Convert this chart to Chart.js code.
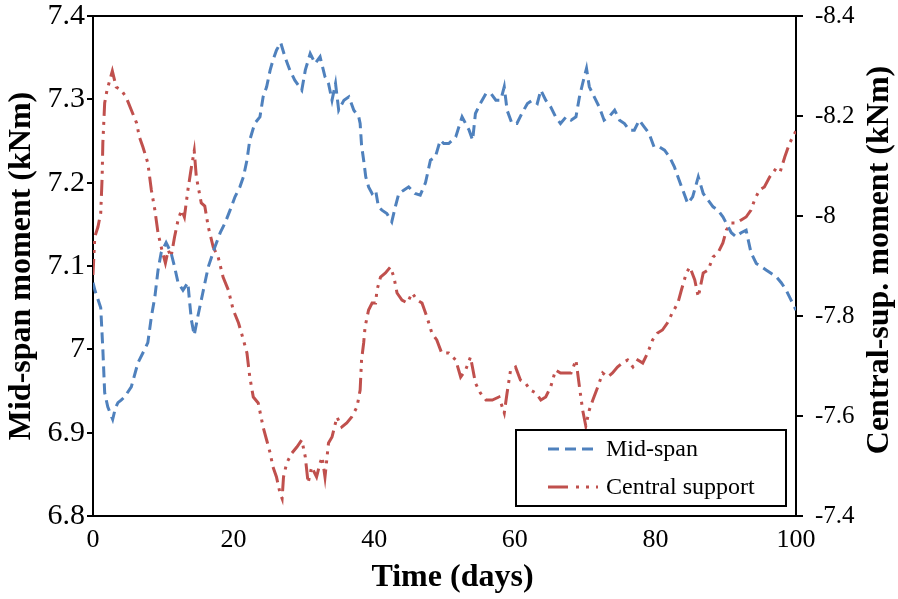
<!DOCTYPE html>
<html lang="en">
<head>
<meta charset="UTF-8" />
<title>Mid-span and central support moment</title>
<script src="https://cdn.jsdelivr.net/npm/chart.js"></script>
<style>
  body { margin: 0; background: #fff; }
</style>
</head>
<body>
<canvas id="momentChart" width="898" height="599"></canvas>
<script>
// time in days, mid-span moment (kNm) on the left axis
const midDays = [0, 0.3, 0.7, 1.1, 1.4, 1.66, 2.1, 2.8, 3.2, 3.55, 4.0, 4.5, 5.45, 6.4, 7.35, 7.8, 8.3, 8.8, 9.25, 9.7,
  10.4, 11.1, 11.6, 12.1, 12.8, 13.5, 13.75, 14.0, 14.4, 14.9, 15.6, 16.4, 17.35, 18.1, 18.8, 19.5, 20.2, 20.9, 21.4, 21.9,
  22.3, 23.0, 23.75, 24.2, 24.7, 25.2, 25.6, 26.1, 26.7, 27.3, 28.0, 28.7, 29.7, 30.2, 30.9, 31.6, 32.3, 33.0, 33.5, 34.0,
  34.5, 34.95, 35.7, 36.4, 37.1, 37.8, 38.0, 38.2, 38.5, 38.8, 39.2, 39.7, 40.2, 40.6, 41.1, 41.8, 42.5, 43.0, 43.5, 44.2,
  44.9, 45.8, 46.55, 47.3, 48.0, 48.7, 49.4, 49.9, 50.6, 51.6, 52.5, 53.5, 54.0, 54.4, 55.1, 55.9, 56.6, 57.3, 58.0, 58.5,
  58.9, 59.6, 60.3, 61.0, 61.8, 62.5, 63.2, 63.7, 64.4, 65.1, 65.8, 66.5, 67.3, 68.0, 68.7, 69.2, 69.65, 70.2, 70.6, 71.3,
  72.0, 72.7, 73.4, 74.2, 74.9, 75.6, 76.3, 77.0, 77.7, 78.4, 79.1, 79.8, 80.55, 81.3, 82.0, 82.7, 83.2, 83.9, 84.6, 85.3,
  86.1, 86.8, 87.5, 88.2, 88.9, 89.6, 90.1, 90.8, 91.5, 92.2, 92.9, 93.6, 94.35, 95.1, 95.8, 96.5, 97.2, 97.9, 98.6, 99.3, 100];
const midSpan = [7.08, 7.07, 7.06, 7.05, 7.0, 6.948, 6.931, 6.916, 6.93, 6.936, 6.939, 6.943, 6.955, 6.984, 7.0, 7.008, 7.039, 7.063, 7.095, 7.116,
  7.128, 7.116, 7.099, 7.08, 7.071, 7.08, 7.056, 7.035, 7.017, 7.039, 7.067, 7.099, 7.123, 7.14, 7.152, 7.167, 7.183, 7.195, 7.207, 7.227,
  7.251, 7.271, 7.279, 7.303, 7.315, 7.335, 7.347, 7.359, 7.368, 7.351, 7.335, 7.323, 7.311, 7.335, 7.355, 7.343, 7.351, 7.327, 7.319, 7.299,
  7.319, 7.287, 7.299, 7.303, 7.287, 7.279, 7.271, 7.245, 7.227, 7.207, 7.195, 7.187, 7.191, 7.171, 7.167, 7.163, 7.153, 7.171, 7.187, 7.191,
  7.195, 7.187, 7.185, 7.2, 7.227, 7.231, 7.251, 7.247, 7.247, 7.255, 7.279, 7.263, 7.251, 7.283, 7.295, 7.307, 7.307, 7.299, 7.299, 7.315,
  7.287, 7.271, 7.271, 7.283, 7.295, 7.299, 7.295, 7.311, 7.299, 7.291, 7.279, 7.271, 7.279, 7.275, 7.279, 7.303, 7.319, 7.337, 7.315, 7.303,
  7.291, 7.275, 7.279, 7.287, 7.275, 7.271, 7.263, 7.263, 7.275, 7.267, 7.259, 7.243, 7.243, 7.239, 7.231, 7.219, 7.207, 7.191, 7.175, 7.183,
  7.207, 7.187, 7.179, 7.171, 7.167, 7.159, 7.151, 7.14, 7.135, 7.14, 7.143, 7.116, 7.103, 7.099, 7.095, 7.091, 7.087, 7.08, 7.071, 7.059, 7.047];

// time in days, central support moment (kNm) on the right axis
const supDays = [0, 0.25, 0.7, 1.1, 1.3, 1.4, 1.66, 2.0, 2.4, 2.75, 3.3, 4.0, 4.7, 5.45, 6.2, 6.6, 7.1, 7.8, 8.3, 8.8,
  9.25, 9.7, 10.3, 10.7, 11.1, 11.6, 12.1, 12.6, 13.0, 13.5, 14.0, 14.4, 14.7, 15.4, 15.9, 16.4, 17.1, 17.8, 18.5, 19.25,
  19.95, 20.7, 21.4, 21.9, 22.3, 22.8, 23.5, 24.2, 24.7, 25.2, 25.6, 26.1, 26.6, 26.9, 27.1, 27.55, 28.3, 29.0, 29.7, 30.2,
  30.6, 31.1, 31.8, 32.3, 32.6, 33.0, 33.5, 34.0, 34.7, 35.4, 36.1, 36.8, 37.55, 38.0, 38.2, 38.5, 38.7, 39.2, 39.7, 40.2,
  40.4, 40.9, 41.6, 42.3, 42.8, 43.25, 43.95, 44.7, 45.4, 46.1, 46.8, 47.5, 48.2, 48.9, 49.6, 50.6, 51.6, 52.3, 53.0, 53.7,
  54.4, 55.1, 55.9, 56.8, 57.75, 58.5, 58.9, 59.4, 60.1, 60.8, 61.5, 62.2, 63.0, 63.7, 64.4, 65.1, 65.8, 66.5, 67.3, 68.0,
  68.7, 69.2, 69.65, 70.1, 70.6, 71.1, 71.8, 72.5, 73.2, 73.9, 74.6, 75.3, 76.05, 76.8, 77.5, 78.2, 78.9, 79.6, 80.3, 81.0,
  81.7, 82.4, 83.2, 83.7, 84.4, 84.9, 85.6, 86.1, 86.8, 87.5, 88.2, 88.9, 89.6, 90.1, 90.8, 91.5, 92.2, 92.9, 93.6, 94.1,
  94.8, 95.5, 96.25, 97.0, 97.7, 98.4, 99.1, 100];
const centralSupport = [-7.882, -7.958, -7.978, -8.006, -8.078, -8.146, -8.226, -8.252, -8.272, -8.29, -8.258, -8.252, -8.238, -8.212, -8.186, -8.158, -8.138, -8.106, -8.052, -8.012,
  -7.966, -7.938, -7.906, -7.932, -7.918, -7.958, -7.992, -8.012, -7.998, -8.052, -8.098, -8.13, -8.078, -8.026, -8.02, -7.978, -7.938, -7.918, -7.878, -7.852,
  -7.812, -7.786, -7.752, -7.726, -7.678, -7.638, -7.626, -7.578, -7.552, -7.526, -7.498, -7.478, -7.446, -7.435, -7.478, -7.506, -7.526, -7.538, -7.552, -7.518,
  -7.466, -7.498, -7.478, -7.506, -7.518, -7.478, -7.546, -7.558, -7.598, -7.578, -7.586, -7.598, -7.618, -7.652, -7.712, -7.746, -7.778, -7.812, -7.826, -7.826,
  -7.852, -7.878, -7.886, -7.898, -7.878, -7.846, -7.832, -7.826, -7.846, -7.832, -7.826, -7.798, -7.766, -7.752, -7.726, -7.726, -7.712, -7.678, -7.692, -7.718,
  -7.666, -7.646, -7.632, -7.632, -7.638, -7.606, -7.646, -7.692, -7.698, -7.672, -7.666, -7.652, -7.646, -7.632, -7.638, -7.658, -7.692, -7.686, -7.686, -7.686,
  -7.712, -7.658, -7.612, -7.58, -7.612, -7.632, -7.658, -7.686, -7.678, -7.686, -7.698, -7.706, -7.712, -7.698, -7.712, -7.706, -7.726, -7.752, -7.766, -7.772,
  -7.786, -7.806, -7.826, -7.852, -7.886, -7.898, -7.872, -7.838, -7.886, -7.892, -7.918, -7.926, -7.946, -7.972, -7.986, -7.986, -7.992, -7.998, -8.012, -8.032,
  -8.052, -8.058, -8.078, -8.092, -8.086, -8.118, -8.146, -8.17];

const xTicks = [0, 20, 40, 60, 80, 100];
const leftTicks = [6.8, 6.9, 7.0, 7.1, 7.2, 7.3, 7.4];
const rightTicks = [-8.4, -8.2, -8.0, -7.8, -7.6, -7.4];

const seriesNames = ['Mid-span', 'Central support'];
const BLUE = '#4f81bd';
const RED = '#c0504d';
const blueDash = [11, 6];
const redDash = [16, 6, 3, 6, 3, 6];
const SERIF = "'Liberation Serif', 'Times New Roman', serif";

const fmt = v => String(+v.toFixed(1));
const noPad = s => { s.paddingTop = 0; s.paddingBottom = 0; };

// top frame line, axis titles that Chart.js can't place as wanted, boxed legend
const extras = {
  id: 'extras',
  afterDraw(chart) {
    const ctx = chart.ctx;
    const a = chart.chartArea;
    ctx.save();
    ctx.strokeStyle = '#000';
    ctx.lineWidth = 2;
    ctx.beginPath();
    ctx.moveTo(a.left, a.top);
    ctx.lineTo(a.right, a.top);
    ctx.stroke();

    ctx.fillStyle = '#000';
    ctx.font = 'bold 32px ' + SERIF;
    ctx.textAlign = 'center';
    ctx.textBaseline = 'middle';
    ctx.fillText('Time (days)', (a.left + a.right) / 2 + 8, chart.height - 21);

    ctx.translate(a.right + 84, (a.top + a.bottom) / 2 - 6);
    ctx.rotate(-Math.PI / 2);
    ctx.fillText('Central-sup. moment (kNm)', 0, 0);
    ctx.restore();

    // legend
    const w = 270, h = 76;
    const bx = a.right - 10 - w, by = a.bottom - 10 - h;
    ctx.save();
    ctx.fillStyle = '#fff';
    ctx.fillRect(bx, by, w, h);
    ctx.strokeStyle = '#000';
    ctx.lineWidth = 2;
    ctx.strokeRect(bx, by, w, h);
    const styles = [[BLUE, blueDash], [RED, [20, 8, 3, 7, 3, 7]]];
    seriesNames.forEach((name, i) => {
      const y = by + 19 + i * 38;
      ctx.strokeStyle = styles[i][0];
      ctx.lineWidth = 3;
      ctx.setLineDash(styles[i][1]);
      ctx.beginPath();
      ctx.moveTo(bx + 32, y);
      ctx.lineTo(bx + 82, y);
      ctx.stroke();
      ctx.setLineDash([]);
      ctx.fillStyle = '#000';
      ctx.font = '24px ' + SERIF;
      ctx.textAlign = 'left';
      ctx.textBaseline = 'middle';
      ctx.fillText(name, bx + 90, y + 1);
    });
    ctx.restore();
  }
};

new Chart(document.getElementById('momentChart'), {
  type: 'line',
  data: {
    datasets: [{
      label: seriesNames[0],
      data: midDays.map((d, i) => ({ x: d, y: midSpan[i] })),
      yAxisID: 'y',
      borderColor: BLUE,
      borderWidth: 3,
      borderDash: blueDash,
      pointRadius: 0,
      fill: false
    }, {
      label: seriesNames[1],
      data: supDays.map((d, i) => ({ x: d, y: centralSupport[i] })),
      yAxisID: 'y2',
      borderColor: RED,
      borderWidth: 3,
      borderDash: redDash,
      pointRadius: 0,
      fill: false
    }]
  },
  options: {
    responsive: false,
    animation: false,
    layout: { padding: { top: 16 } },
    plugins: {
      legend: { display: false },
      tooltip: { enabled: false }
    },
    scales: {
      x: {
        type: 'linear',
        min: 0,
        max: 100,
        afterBuildTicks: s => { s.ticks = xTicks.map(v => ({ value: v })); },
        afterFit: s => { s.height = 83; s.paddingLeft = 0; s.paddingRight = 0; },
        grid: { display: false, drawTicks: false },
        border: { display: true, color: '#000', width: 2 },
        ticks: { color: '#000', padding: 11, callback: fmt, font: { family: SERIF, size: 26, lineHeight: 1 } }
      },
      y: {
        position: 'left',
        min: 6.8,
        max: 7.4,
        afterBuildTicks: s => { s.ticks = leftTicks.map(v => ({ value: v })); },
        afterFit: s => { s.width = 93; noPad(s); },
        grid: { drawOnChartArea: false, tickLength: 6, color: '#000', lineWidth: 2 },
        border: { display: true, color: '#000', width: 2 },
        ticks: { color: '#000', padding: 2, callback: fmt, font: { family: SERIF, size: 30, lineHeight: 1 } },
        title: {
          display: true,
          text: 'Mid-span moment (kNm)',
          color: '#000',
          padding: { top: 3, bottom: 0 },
          font: { family: SERIF, size: 32, weight: 'bold' }
        }
      },
      y2: {
        position: 'right',
        reverse: true,
        min: -8.4,
        max: -7.4,
        afterBuildTicks: s => { s.ticks = rightTicks.map(v => ({ value: v })); },
        afterFit: s => { s.width = 102; noPad(s); },
        grid: { drawOnChartArea: false, tickLength: 7, color: '#000', lineWidth: 2 },
        border: { display: true, color: '#000', width: 2 },
        ticks: { color: '#000', padding: 12, callback: fmt, font: { family: SERIF, size: 25, lineHeight: 1 } }
      }
    }
  },
  plugins: [extras]
});
</script>
</body>
</html>
